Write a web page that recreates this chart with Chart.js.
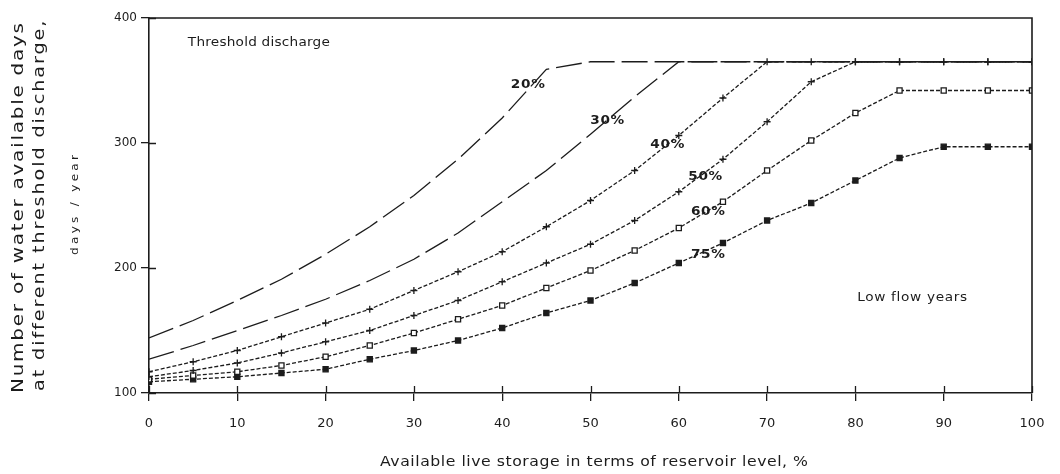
<!DOCTYPE html>
<html>
<head>
<meta charset="utf-8">
<script src="https://cdn.jsdelivr.net/npm/chart.js@4/dist/chart.umd.min.js"></script>
<style>
  html, body { margin: 0; padding: 0; background: #fff; }
  #wrap { width: 1060px; height: 474px; }
</style>
</head>
<body>
<div id="wrap"><canvas id="chart" width="1060" height="474"></canvas></div>
<script>
// Available live storage (reservoir level, %)
const storageLevels = [0, 5, 10, 15, 20, 25, 30, 35, 40, 45, 50, 55, 60, 65, 70, 75, 80, 85, 90, 95, 100];

// Days per year with water available, one series per threshold discharge
const days20 = [144, 158, 174, 191, 211, 233, 258, 287, 320, 359, 365, 365, 365, 365, 365, 365, 365, 365, 365, 365, 365];
const days30 = [127, 138, 150, 162, 175, 190, 207, 228, 253, 278, 307, 337, 365, 365, 365, 365, 365, 365, 365, 365, 365];
const days40 = [117, 125, 134, 145, 156, 167, 182, 197, 213, 233, 254, 278, 306, 336, 365, 365, 365, 365, 365, 365, 365];
const days50 = [113, 118, 124, 132, 141, 150, 162, 174, 189, 204, 219, 238, 261, 287, 317, 349, 365, 365, 365, 365, 365];
const days60 = [111, 114, 117, 122, 129, 138, 148, 159, 170, 184, 198, 214, 232, 253, 278, 302, 324, 342, 342, 342, 342];
const days75 = [109, 111, 113, 116, 119, 127, 134, 142, 152, 164, 174, 188, 204, 220, 238, 252, 270, 288, 297, 297, 297];

const thresholdNames = ['20%', '30%', '40%', '50%', '60%', '75%'];

// Axis ticks
const xTicks = [0, 10, 20, 30, 40, 50, 60, 70, 80, 90, 100];
const yTicks = [100, 200, 300, 400];

const INK = '#1c1c1c';
const FONT = '"DejaVu Sans", "Liberation Sans", sans-serif';

function toPoints(values) {
  return storageLevels.map((x, i) => ({ x: x, y: values[i] }));
}

const seriesValues = [days20, days30, days40, days50, days60, days75];
const seriesStyles = [
  { dash: [26, 7], point: false, radius: 0 },
  { dash: [26, 7], point: false, radius: 0 },
  { dash: [4, 2], point: 'cross', radius: 3.5, fill: INK },
  { dash: [4, 2], point: 'cross', radius: 3.5, fill: INK },
  { dash: [4, 2], point: 'rect', radius: 3.6, fill: '#ffffff' },
  { dash: [4, 2], point: 'rect', radius: 3.6, fill: INK }
];

const datasets = seriesValues.map((vals, i) => ({
  label: thresholdNames[i],
  data: toPoints(vals),
  borderColor: INK,
  borderWidth: 1.3,
  borderDash: seriesStyles[i].dash,
  pointStyle: seriesStyles[i].point,
  pointRadius: seriesStyles[i].radius,
  pointBorderColor: INK,
  pointBorderWidth: 1.3,
  pointBackgroundColor: seriesStyles[i].fill || INK,
  tension: 0,
  fill: false
}));

// Draws text widened (stretch) and letter-spaced so that it spans a given length,
// starting at (x, y) in the current transform.
function wideText(ctx, text, x, y, length, stretch) {
  ctx.save();
  ctx.letterSpacing = '0px';
  const w = ctx.measureText(text).width;
  const gap = Math.max(0, (length / stretch - w) / Math.max(1, text.length - 1));
  ctx.translate(x, y);
  ctx.scale(stretch, 1);
  ctx.letterSpacing = gap + 'px';
  ctx.textAlign = 'left';
  ctx.fillText(text, 0, 0);
  ctx.restore();
}

// Box frame plus tick marks that cross the axes
const framePlugin = {
  id: 'frame',
  afterDraw(chart) {
    const { ctx, chartArea: a, scales } = chart;
    ctx.save();
    ctx.strokeStyle = INK;
    ctx.lineWidth = 1.6;
    ctx.beginPath();
    ctx.moveTo(a.left, a.top);
    ctx.lineTo(a.right, a.top);
    ctx.lineTo(a.right, a.bottom);
    ctx.stroke();
    ctx.lineWidth = 1.3;
    ctx.beginPath();
    xTicks.forEach(v => {
      const px = Math.round(scales.x.getPixelForValue(v)) + 0.5;
      ctx.moveTo(px, a.bottom);
      ctx.lineTo(px, a.bottom - 7);
    });
    yTicks.forEach(v => {
      const py = Math.round(scales.y.getPixelForValue(v)) + 0.5;
      ctx.moveTo(a.left, py);
      ctx.lineTo(a.left + 7, py);
    });
    ctx.stroke();
    ctx.restore();
  }
};

// Annotations: threshold labels, notes and axis titles
const annotationPlugin = {
  id: 'notes',
  afterDraw(chart) {
    const { ctx, scales } = chart;
    const X = v => scales.x.getPixelForValue(v);
    const Y = v => scales.y.getPixelForValue(v);
    ctx.save();
    ctx.fillStyle = INK;
    ctx.textBaseline = 'middle';

    // Notes inside the plot
    ctx.font = '13px ' + FONT;
    wideText(ctx, 'Threshold discharge', X(4.4), Y(380), 142, 1.05);
    wideText(ctx, 'Low flow years', X(80.2), Y(176), 110, 1.05);

    // Threshold labels beside their curves (centre of each label, in data units)
    const labelAt = [
      [42.9, 347], [51.9, 318], [58.7, 299], [63.0, 273], [63.3, 245], [63.3, 211]
    ];
    ctx.font = 'bold 13px ' + FONT;
    thresholdNames.forEach((name, i) => {
      wideText(ctx, name, X(labelAt[i][0]) - 17, Y(labelAt[i][1]), 34, 1.05);
    });

    // X axis title
    ctx.font = '14px ' + FONT;
    wideText(ctx, 'Available live storage in terms of reservoir level, %', 380, 462, 428, 1.12);

    // Y axis title (rotated, reading upward)
    const rot = (cx, cy, fn) => {
      ctx.save();
      ctx.translate(cx, cy);
      ctx.rotate(-Math.PI / 2);
      fn();
      ctx.restore();
    };
    ctx.font = '16px ' + FONT;
    rot(19, 207, () => wideText(ctx, 'Number of water available days', -186, 0, 370, 1.25));
    rot(40, 205, () => wideText(ctx, 'at different threshold discharge,', -186, 0, 370, 1.2));
    ctx.font = '11px ' + FONT;
    rot(75, 205, () => wideText(ctx, 'days / year', -50, 0, 100, 1.1));
    ctx.restore();
  }
};

new Chart(document.getElementById('chart'), {
  type: 'line',
  data: { datasets: datasets },
  options: {
    responsive: false,
    animation: false,
    devicePixelRatio: 1,
    layout: { padding: { left: 0, right: 28, top: 18, bottom: 0 } },
    plugins: {
      legend: { display: false },
      tooltip: { enabled: false }
    },
    scales: {
      x: {
        type: 'linear',
        min: 0,
        max: 100,
        afterBuildTicks(scale) { scale.ticks = xTicks.map(v => ({ value: v })); },
        afterFit(scale) { scale.height = 81; },
        ticks: {
          color: INK,
          font: { family: FONT, size: 13 },
          padding: 15,
          maxRotation: 0
        },
        grid: { drawOnChartArea: false, tickLength: 8, color: INK, lineWidth: 1.3 },
        border: { color: INK, width: 1.6 }
      },
      y: {
        min: 100,
        max: 400,
        afterBuildTicks(scale) { scale.ticks = yTicks.map(v => ({ value: v })); },
        afterFit(scale) { scale.width = 149; },
        ticks: {
          color: INK,
          font: { family: FONT, size: 12 },
          padding: 4
        },
        grid: { drawOnChartArea: false, tickLength: 8, color: INK, lineWidth: 1.3 },
        border: { color: INK, width: 1.6 }
      }
    }
  },
  plugins: [framePlugin, annotationPlugin]
});
</script>
</body>
</html>
